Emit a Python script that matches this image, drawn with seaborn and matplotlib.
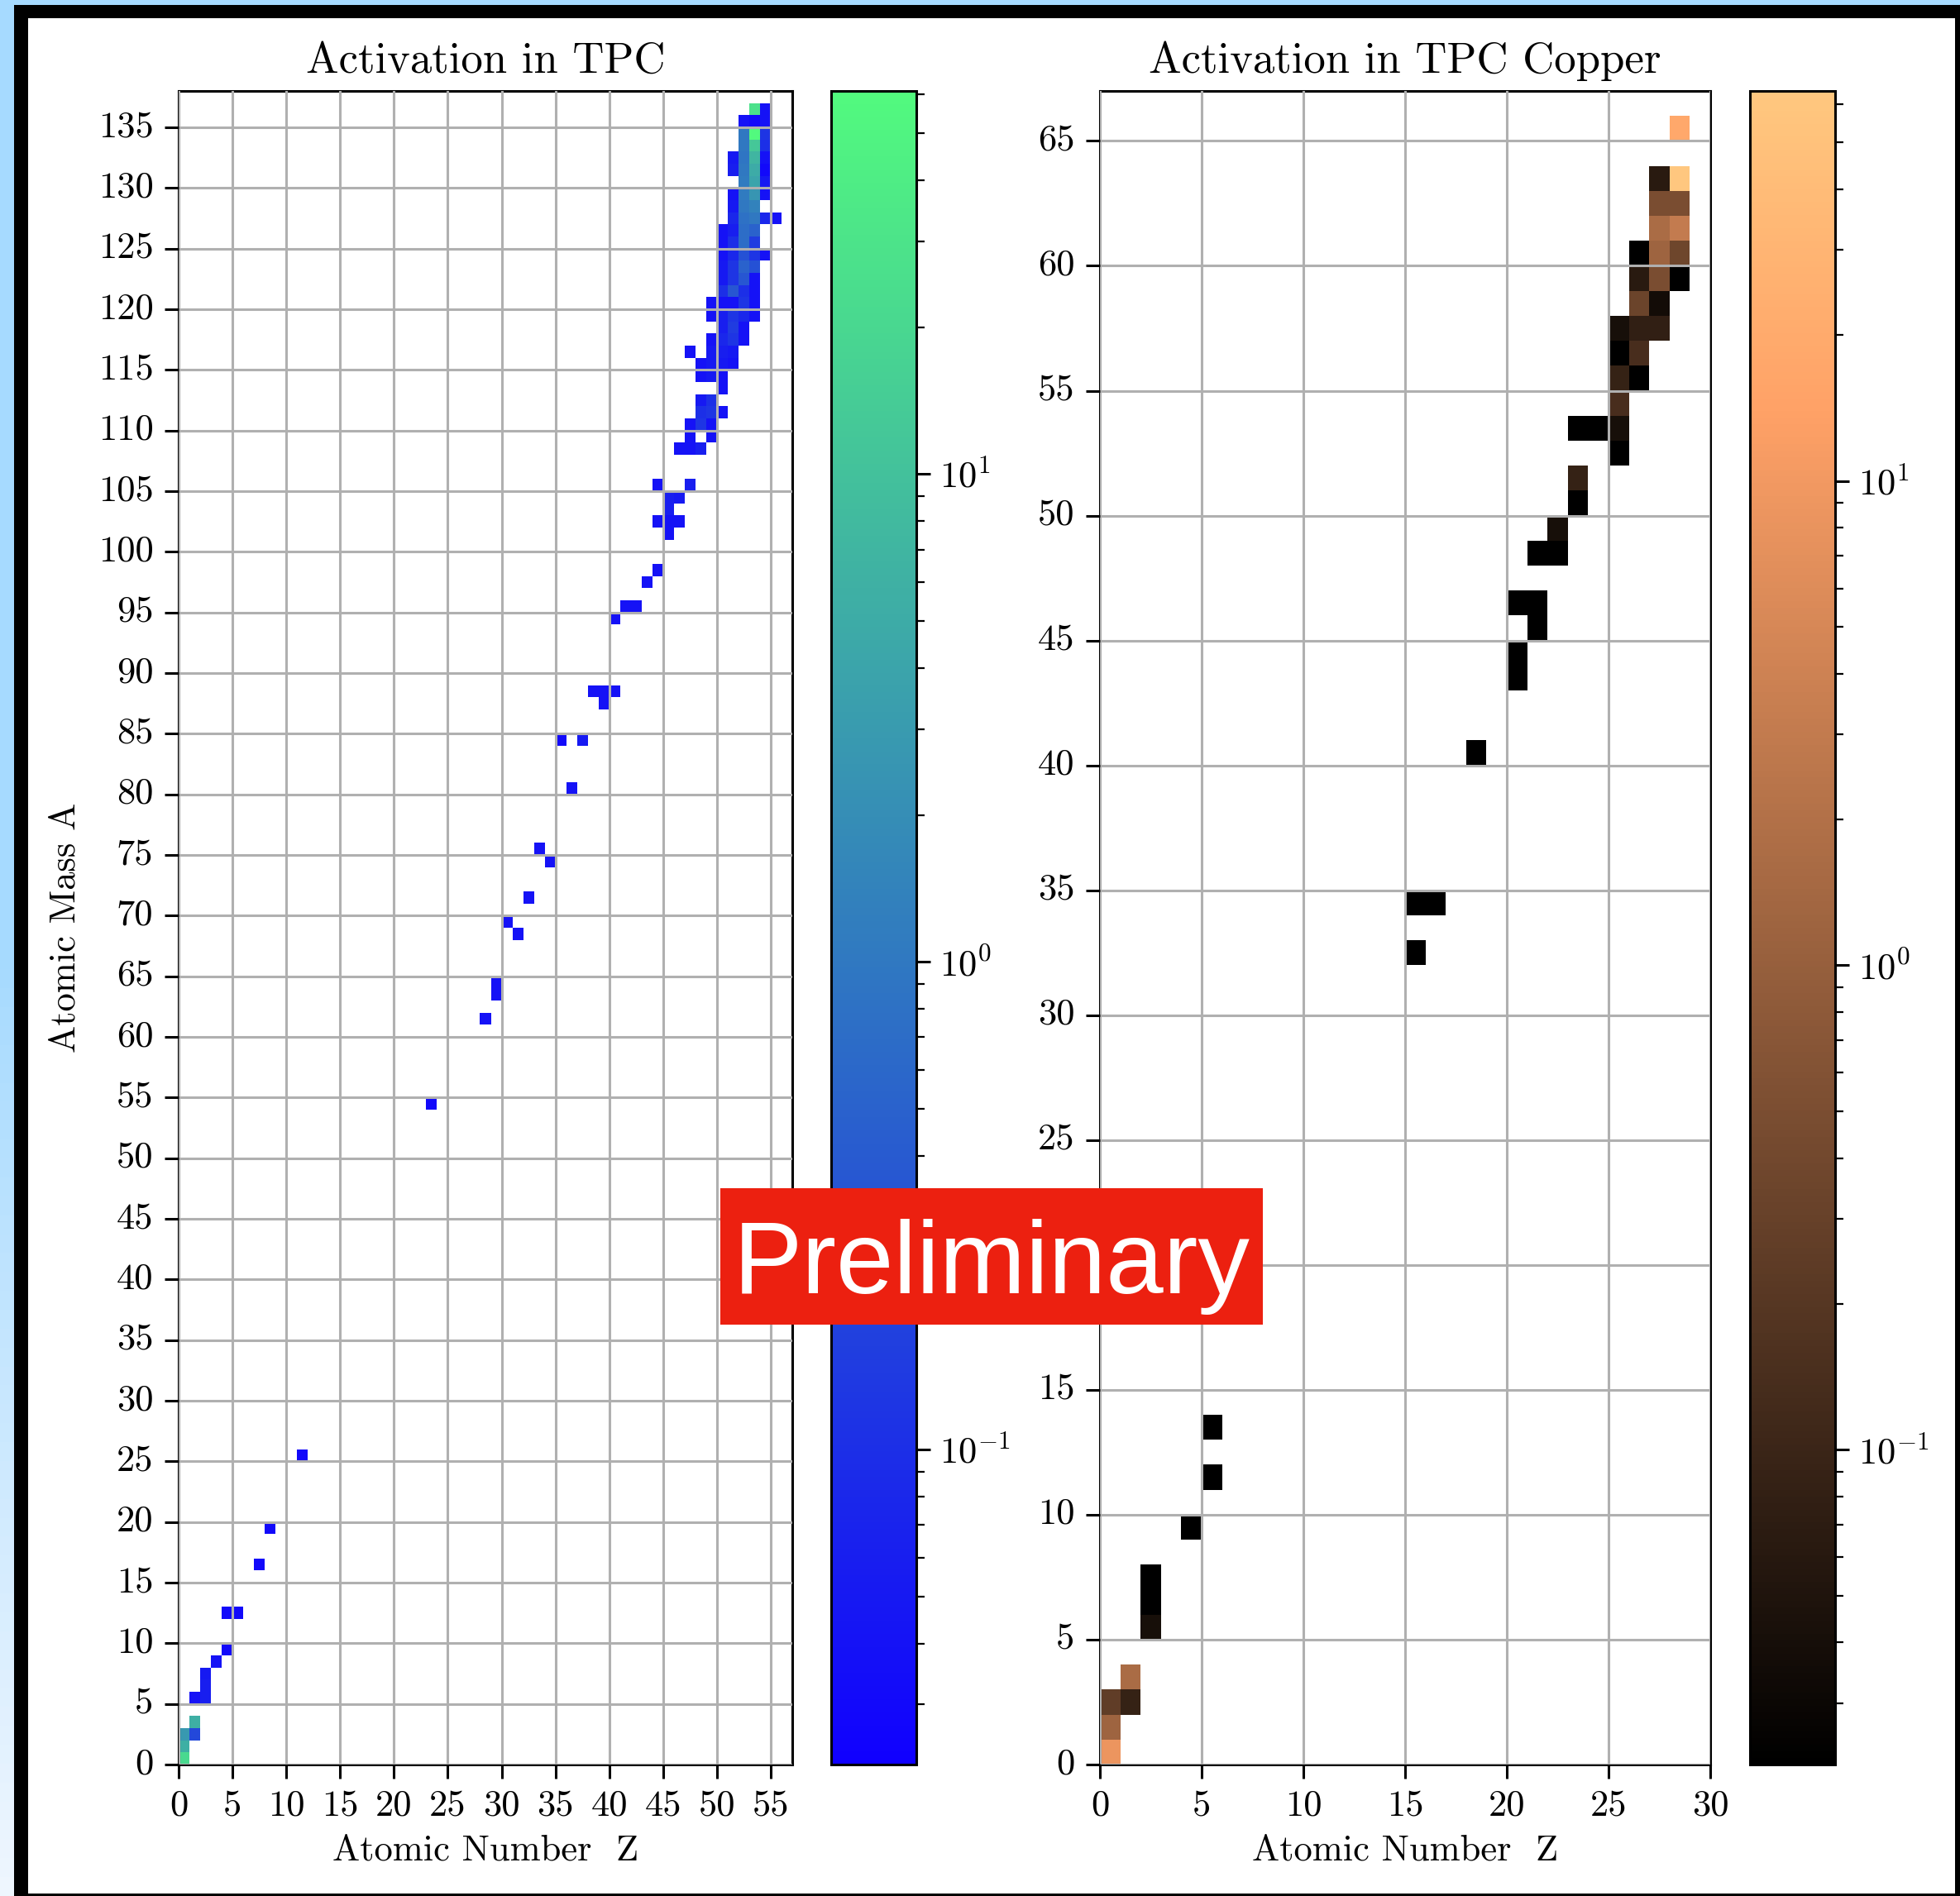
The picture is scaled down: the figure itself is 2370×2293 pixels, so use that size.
import numpy as np
import pandas as pd
import matplotlib
matplotlib.use('Agg')
import matplotlib.pyplot as plt
from matplotlib.colors import LogNorm, LinearSegmentedColormap
from matplotlib.patches import Rectangle
import seaborn as sns

# ============================================================
# DATA  (Z, A, activation)
# ============================================================

# --- TPC (xenon) ---
TPC_Z = [53, 54,
         52, 53, 54,
         52, 53, 54,
         52, 53, 54,
         51, 52, 53, 54,
         51, 52, 53, 54,
         52, 53, 54,
         51, 52, 53, 54,
         51, 52, 53,
         51, 52, 53, 54, 55,
         50, 51, 52, 53,
         50, 51, 52, 53,
         50, 51, 52, 53, 54,
         50, 51, 52, 53,
         50, 51, 52, 53,
         50, 51, 52, 53,
         49, 50, 51, 52, 53,
         49, 50, 51, 52, 53,
         50, 51, 52,
         49, 50, 51, 52,
         47, 49, 50, 51,
         48, 49, 50, 51,
         48, 49, 50,
         50,
         48, 49,
         48, 49, 50,
         47, 48, 49,
         47, 49,
         46, 47, 48,
         44, 47, 45, 46, 45, 44, 45, 46, 45,
         44, 43, 41, 42, 40, 38, 39, 40, 39, 35, 37,
         36, 33, 34, 32, 30, 31, 29, 29, 28, 23,
         11, 8, 7, 4, 5, 4, 3, 2, 2, 1, 2,
         1, 1, 0, 0, 0]
TPC_A = [136, 136,
         135, 135, 135,
         134, 134, 134,
         133, 133, 133,
         132, 132, 132, 132,
         131, 131, 131, 131,
         130, 130, 130,
         129, 129, 129, 129,
         128, 128, 128,
         127, 127, 127, 127, 127,
         126, 126, 126, 126,
         125, 125, 125, 125,
         124, 124, 124, 124, 124,
         123, 123, 123, 123,
         122, 122, 122, 122,
         121, 121, 121, 121,
         120, 120, 120, 120, 120,
         119, 119, 119, 119, 119,
         118, 118, 118,
         117, 117, 117, 117,
         116, 116, 116, 116,
         115, 115, 115, 115,
         114, 114, 114,
         113,
         112, 112,
         111, 111, 111,
         110, 110, 110,
         109, 109,
         108, 108, 108,
         105, 105, 104, 104, 103, 102, 102, 102, 101,
         98, 97, 95, 95, 94, 88, 88, 88, 87, 84, 84,
         80, 75, 74, 71, 69, 68, 64, 63, 61, 54,
         25, 19, 16, 12, 12, 9, 8, 7, 6, 5, 5,
         3, 2, 2, 1, 0]
TPC_VAL = [28, 0.04,
           0.04, 0.03, 0.04,
           1.0, 61, 0.12,
           1.0, 12, 0.1,
           0.05, 0.9, 7, 0.04,
           0.06, 1.0, 5, 0.03,
           1.1, 4, 0.05,
           0.04, 1.1, 2.5, 0.04,
           0.05, 1.0, 1.4,
           0.08, 0.8, 1.0, 0.08, 0.04,
           0.04, 0.06, 0.7, 0.5,
           0.04, 0.1, 0.7, 0.15,
           0.04, 0.08, 0.3, 0.12, 0.04,
           0.05, 0.12, 0.5, 0.3,
           0.05, 0.12, 0.35, 0.04,
           0.1, 0.35, 0.1, 0.04,
           0.04, 0.04, 0.04, 0.12, 0.04,
           0.04, 0.06, 0.12, 0.08, 0.04,
           0.06, 0.15, 0.04,
           0.04, 0.08, 0.12, 0.04,
           0.04, 0.05, 0.06, 0.05,
           0.04, 0.05, 0.05, 0.04,
           0.04, 0.05, 0.04,
           0.04,
           0.05, 0.1,
           0.1, 0.12, 0.04,
           0.04, 0.12, 0.04,
           0.04, 0.04,
           0.04, 0.04, 0.06,
           0.04, 0.06, 0.06, 0.05, 0.06, 0.04, 0.04, 0.04, 0.04,
           0.04, 0.04, 0.04, 0.04, 0.04, 0.04, 0.04, 0.04, 0.04, 0.03, 0.05,
           0.04, 0.04, 0.04, 0.04, 0.04, 0.04, 0.04, 0.04, 0.04, 0.03,
           0.03, 0.03, 0.03, 0.03, 0.03, 0.03, 0.04, 0.05, 0.06, 0.04, 0.06,
           5.7, 0.22, 2.8, 5.7, 21]

# --- TPC copper ---
CU_Z = [28, 27, 28, 27, 28, 27, 28, 26, 27, 28, 26, 27, 28, 26, 27,
        25, 26, 27, 25, 26, 25, 26, 25, 23, 24, 25, 25, 23, 23, 22,
        21, 22, 20, 21, 21, 20, 20, 18, 15, 16, 15, 5, 5, 4,
        2, 2, 2, 1, 0, 1, 0, 0]
CU_A = [65, 63, 63, 62, 62, 61, 61, 60, 60, 60, 59, 59, 59, 58, 58,
        57, 57, 57, 56, 56, 55, 55, 54, 53, 53, 53, 52, 51, 50, 49,
        48, 48, 46, 46, 45, 44, 43, 40, 34, 34, 32, 13, 11, 9,
        7, 6, 5, 3, 2, 2, 1, 0]
CU_VAL = [17.9, 0.063, 63.8, 0.50, 0.50, 1.64, 3.1, 0.0224, 1.2, 0.36,
          0.063, 0.50, 0.0224, 0.335, 0.036,
          0.041, 0.08, 0.08, 0.0224, 0.14, 0.087, 0.0224, 0.14,
          0.0224, 0.0224, 0.041, 0.0224, 0.087, 0.0224, 0.041,
          0.0224, 0.0224, 0.0224, 0.0224, 0.0224, 0.0224, 0.0224, 0.0224,
          0.0224, 0.0224, 0.0224, 0.0224, 0.0224, 0.0224,
          0.0224, 0.0224, 0.041, 1.64, 0.26, 0.087, 1.2, 8.7]

TPC_SHAPE = (138, 57)   # (A bins, Z bins)
CU_SHAPE = (67, 30)
TPC_RANGE = (0.0226, 61)
CU_RANGE = (0.0224, 63.8)

# ============================================================
# SETUP
# ============================================================

sns.set_theme(style='ticks', rc={
    'axes.linewidth': 2.2, 'axes.edgecolor': 'black',
    'grid.color': '#b0b0b0', 'grid.linewidth': 2.2,
    'xtick.major.size': 12, 'ytick.major.size': 12,
    'xtick.major.width': 2.2, 'ytick.major.width': 2.2,
    'xtick.minor.size': 7, 'ytick.minor.size': 7,
    'xtick.minor.width': 1.6, 'ytick.minor.width': 1.6,
    'xtick.major.pad': 10, 'ytick.major.pad': 10,
    'xtick.labelsize': 32, 'ytick.labelsize': 32,
    'axes.labelsize': 32, 'axes.titlesize': 38,
    'xtick.color': 'black', 'ytick.color': 'black',
    'axes.labelcolor': 'black', 'text.color': 'black',
})
plt.rcParams['font.family'] = 'serif'
plt.rcParams['font.serif'] = ['cmr10']
plt.rcParams['mathtext.fontset'] = 'cm'
plt.rcParams['axes.unicode_minus'] = False
plt.rcParams['axes.formatter.use_mathtext'] = True

W, H = 2370, 2293
fig = plt.figure(figsize=(W / 100, H / 100), dpi=100)

# slide frame: light blue edge, black border, white page
fig.patch.set_facecolor('#A6DAFF')
fig.add_artist(Rectangle((17 / W, 0), 1 - 17 / W, 1 - 6 / H, transform=fig.transFigure,
                         facecolor='black', edgecolor='none', zorder=-3))
fig.add_artist(Rectangle((34 / W, 3 / H), (2364 - 34) / W, (2290 - 22) / H,
                         transform=fig.transFigure, facecolor='white',
                         edgecolor='none', zorder=-2))
strip = fig.add_axes([0, 0, 17 / W, 1 - 6 / H])
strip.imshow(np.linspace(0, 1, 100)[:, None], aspect='auto',
             cmap=LinearSegmentedColormap.from_list('strip', ['#A6DAFF', '#A6DAFF', '#EEF6FE']))
strip.axis('off')


def grid_frame(z, a, v, shape):
    grid = np.full(shape, np.nan)
    for zz, aa, vv in zip(z, a, v):
        grid[aa, zz] = vv
    return pd.DataFrame(grid)


def panel(ax, cax, df, cmap, vrange, title, ylabel=None):
    sns.heatmap(df, mask=df.isna(), cmap=cmap, norm=LogNorm(*vrange),
                ax=ax, cbar_ax=cax)
    ny, nx = df.shape
    ax.set_xlim(0, nx)
    ax.set_ylim(0, ny)
    xt = list(range(0, nx + 1, 5))
    yt = list(range(0, ny - 1, 5))
    ax.set_xticks(xt)
    ax.set_xticklabels([str(t) for t in xt], rotation=0)
    ax.set_yticks(yt)
    ax.set_yticklabels([str(t) for t in yt], rotation=0)
    for s in ax.spines.values():
        s.set_visible(True)
        s.set_linewidth(2.2)
        s.set_color('black')
    ax.grid(True)
    ax.set_axisbelow(False)
    ax.set_title(title, pad=16)
    ax.set_xlabel('Atomic Number  Z', labelpad=10)
    if ylabel:
        ax.set_ylabel(ylabel, labelpad=14)
    cb = ax.collections[0].colorbar
    cb.outline.set_linewidth(2.2)
    cb.outline.set_edgecolor('black')
    cb.ax.tick_params(which='major', length=12, width=2.2, labelsize=32, pad=8)
    cb.ax.tick_params(which='minor', length=7, width=1.6)


bottom, height = 1 - 2134 / H, 2024 / H
ax1 = fig.add_axes([216 / W, bottom, 742 / W, height])
cax1 = fig.add_axes([1005 / W, bottom, 103 / W, height])
ax2 = fig.add_axes([1330 / W, bottom, 738 / W, height])
cax2 = fig.add_axes([2116 / W, bottom, 103 / W, height])

tpc_cmap = LinearSegmentedColormap.from_list('tpc', ['#1000FF', '#52FA7E'])
panel(ax1, cax1, grid_frame(TPC_Z, TPC_A, TPC_VAL, TPC_SHAPE), tpc_cmap,
      TPC_RANGE, 'Activation in TPC', ylabel='Atomic Mass A')
panel(ax2, cax2, grid_frame(CU_Z, CU_A, CU_VAL, CU_SHAPE), 'copper',
      CU_RANGE, 'Activation in TPC Copper')

# "Preliminary" stamp
fig.add_artist(Rectangle((871 / W, 1 - 1602 / H), 656 / W, 165 / H,
                         transform=fig.transFigure, facecolor='#EC2010',
                         edgecolor='none', zorder=5))
fig.text(1199 / W, 1 - 1564 / H, 'Preliminary', family='Liberation Sans',
         fontsize=90, color='white', ha='center', va='baseline', zorder=6)

plt.savefig('out.png', dpi=100)
plt.close()
